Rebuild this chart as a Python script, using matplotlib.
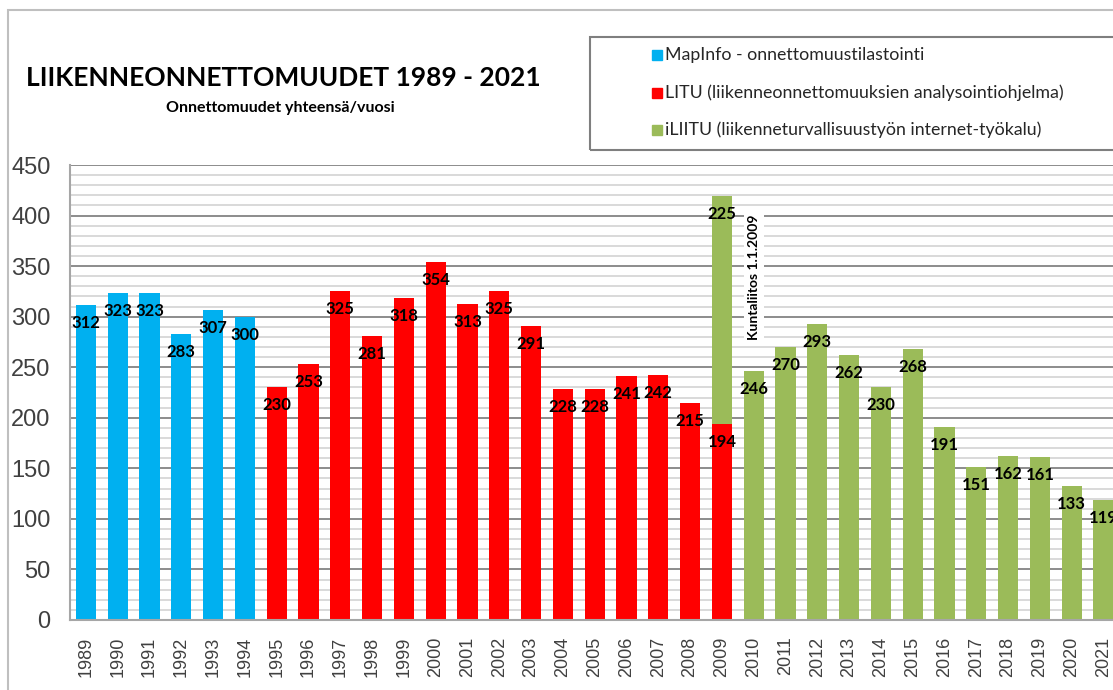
import numpy as np
import matplotlib.pyplot as plt
from matplotlib.patches import Rectangle
from matplotlib.ticker import MultipleLocator

# ----------------------------------------------------------
# DATA
# ----------------------------------------------------------
YEARS = list(range(1989, 2022))
TOTALS = [312, 323, 323, 283, 307, 300,
          230, 253, 325, 281, 318, 354, 313, 325, 291, 228, 228, 241, 242, 215, 194,
          246, 270, 293, 262, 230, 268, 191, 151, 162, 161, 133, 119]
SOURCE = ["mapinfo"] * 6 + ["litu"] * 15 + ["iliitu"] * 12
EXTRA_2009 = 225          # iLIITU-osuus vuoden 2009 pylvään päällä

LEGEND_LABELS = {
    "mapinfo": "MapInfo - onnettomuustilastointi",
    "litu": "LITU (liikenneonnettomuuksien analysointiohjelma)",
    "iliitu": "iLIITU (liikenneturvallisuustyön internet-työkalu)",
}

TITLE = "LIIKENNEONNETTOMUUDET 1989 - 2021"
SUBTITLE = "Onnettomuudet yhteensä/vuosi"
NOTE = "Kuntaliitos 1.1.2009"

# ----------------------------------------------------------
# STYLE
# ----------------------------------------------------------
COLORS = {"mapinfo": "#00B0F0", "litu": "#FF0000", "iliitu": "#9BBB59"}
BAR_W = 0.63
LABEL_FONT = "Lato"
AXIS_FONT = "Liberation Sans"

W, H = 1113, 690
fig = plt.figure(figsize=(W / 100, H / 100), dpi=100)

# outer frame of the chart object (cropped at right / bottom)
fig.patches.append(Rectangle((8 / W, -0.1), 1.2, 1 - 10 / H + 0.1,
                             transform=fig.transFigure, fill=False,
                             edgecolor="#BFBFBF", linewidth=1.5))

ax = fig.add_axes([70 / W, 1 - 620 / H, 33 * 31.8 / W, 455 / H])

x = np.arange(len(YEARS))
colors = [COLORS[s] for s in SOURCE]
ax.bar(x, TOTALS, width=BAR_W, color=colors, zorder=3)

i09 = YEARS.index(2009)
ax.bar(i09, EXTRA_2009, bottom=TOTALS[i09], width=BAR_W,
       color=COLORS["iliitu"], zorder=3)

# value labels just inside the bar top
px = 455 / 450.0
off = 18 / px
for i, v in enumerate(TOTALS):
    ax.text(i, v - off, str(v), ha="center", va="center",
            fontsize=12, fontweight="bold", family=LABEL_FONT, zorder=5)
ax.text(i09, TOTALS[i09] + EXTRA_2009 - off, str(EXTRA_2009), ha="center",
        va="center", fontsize=12, fontweight="bold", family=LABEL_FONT, zorder=5)

ax.text(YEARS.index(2010), 339, NOTE, rotation=90, ha="center", va="center",
        fontsize=10, fontweight="bold", family=LABEL_FONT, zorder=6,
        bbox=dict(facecolor="white", edgecolor="none", pad=3))

ax.set_xlim(-0.5, len(YEARS) - 0.5)
ax.set_ylim(0, 450)
ax.yaxis.set_major_locator(MultipleLocator(50))
ax.yaxis.set_minor_locator(MultipleLocator(10))
ax.grid(which="minor", axis="y", color="#D9D9D9", linewidth=1.4, zorder=0)
ax.grid(which="major", axis="y", color="#8C8C8C", linewidth=1.4, zorder=1)

ax.set_xticks(x)
ax.set_xticklabels([str(y) for y in YEARS], rotation=90, fontsize=13,
                   family=AXIS_FONT, color="#404040")
ax.tick_params(axis="x", length=0, pad=12)
ax.tick_params(axis="y", which="major", length=0, pad=14, labelsize=17,
               labelcolor="#404040")
ax.tick_params(axis="y", which="minor", length=0)
for lab in ax.get_yticklabels():
    lab.set_family(AXIS_FONT)

for side in ["top", "right"]:
    ax.spines[side].set_visible(False)
for side in ["left", "bottom"]:
    ax.spines[side].set_color("#A6A6A6")
    ax.spines[side].set_linewidth(1.5)
    ax.spines[side].set_zorder(4)

# title
fig.text(283 / W, 1 - 78 / H, TITLE, ha="center", va="center", fontsize=19,
         fontweight="bold", family=LABEL_FONT)
fig.text(280 / W, 1 - 108 / H, SUBTITLE, ha="center", va="center", fontsize=11.5,
         fontweight="bold", family=LABEL_FONT)

# legend box (cropped at the right edge)
fig.patches.append(Rectangle((590 / W, 1 - 150 / H), 0.6, 113 / H,
                             transform=fig.transFigure, fill=False,
                             edgecolor="#7F7F7F", linewidth=1.5))
for key, yy in zip(["mapinfo", "litu", "iliitu"], [55, 93, 130]):
    fig.patches.append(Rectangle((652 / W, 1 - (yy + 5) / H), 10 / W, 10 / H,
                                 transform=fig.transFigure, color=COLORS[key]))
    fig.text(665 / W, 1 - yy / H, LEGEND_LABELS[key], ha="left", va="center",
             fontsize=12.8, family=LABEL_FONT, color="#262626")

fig.savefig("out.png", dpi=100)
